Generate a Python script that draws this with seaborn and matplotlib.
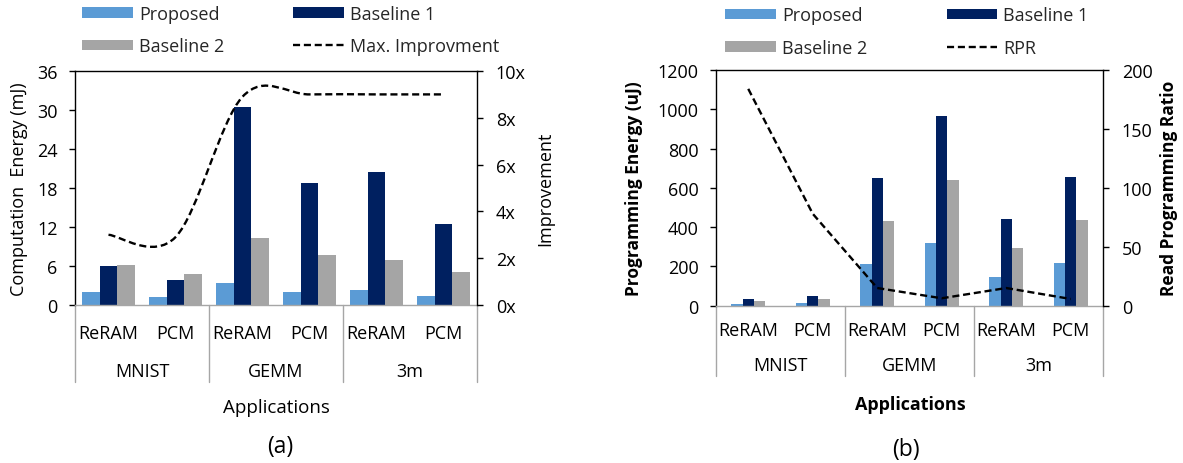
import numpy as np
import pandas as pd
import matplotlib
matplotlib.use("Agg")
import matplotlib.pyplot as plt
import matplotlib.transforms as mtransforms
from matplotlib.path import Path
from matplotlib.patches import PathPatch, Patch
from matplotlib.lines import Line2D
import seaborn as sns

# ---------------- data ----------------
apps = ["MNIST", "GEMM", "3m"]
devices = ["ReRAM", "PCM"]
series = ["Proposed", "Baseline 1", "Baseline 2"]
colors = ["#5B9BD5", "#002060", "#A5A5A5"]

# (a) computation energy (mJ) and maximum improvement (x)
a_proposed = [2.0, 1.3, 3.4, 2.0, 2.25, 1.4]
a_baseline1 = [6.05, 3.85, 30.4, 18.7, 20.5, 12.4]
a_baseline2 = [6.2, 4.7, 10.35, 7.75, 6.9, 5.1]
a_improvement = [3.0, 2.9, 8.9, 9.0, 9.0, 9.0]

# (b) programming energy (uJ) and read/programming ratio
b_proposed = [10, 15, 212, 318, 145, 217]
b_baseline1 = [32, 48, 648, 967, 441, 656]
b_baseline2 = [22, 32, 430, 640, 292, 436]
b_rpr = [184, 78, 15, 6.3, 15, 5.7]

a_ticks = [0, 6, 12, 18, 24, 30, 36]
a_ticks2 = [0, 2, 4, 6, 8, 10]
b_ticks = [0, 200, 400, 600, 800, 1000, 1200]
b_ticks2 = [0, 50, 100, 150, 200]

cases = [f"{a} {d}" for a in apps for d in devices]


def long_frame(*vals):
    rows = []
    for s, v in zip(series, vals):
        for c, x in zip(cases, v):
            rows.append({"case": c, "series": s, "value": x})
    return pd.DataFrame(rows)


sns.set_theme(style="white")
plt.rcParams["font.family"] = ["Open Sans", "DejaVu Sans"]
plt.rcParams["axes.unicode_minus"] = False

W, H = 1183, 464
fig = plt.figure(figsize=(W / 100, H / 100), dpi=100)

DASH = (0, (3, 1.6))
LW = 1.7
FS = 13


def fy(py):
    return 1 - py / H


def style_axes(ax, ax2):
    for a in (ax, ax2):
        for s in a.spines.values():
            s.set_visible(False)
    ax.spines["left"].set_visible(True)
    ax.spines["top"].set_visible(True)
    ax.spines["bottom"].set_visible(True)
    ax2.spines["right"].set_visible(True)
    for s in ("left", "top"):
        ax.spines[s].set_color("black")
        ax.spines[s].set_linewidth(1.0)
    ax.spines["bottom"].set_color("#A6A6A6")
    ax.spines["bottom"].set_linewidth(1.0)
    ax2.spines["right"].set_color("black")
    ax2.spines["right"].set_linewidth(1.0)
    ax.tick_params(axis="x", bottom=False, labelbottom=False)
    ax.tick_params(axis="y", left=True, direction="out", length=4.5, width=1,
                   color="black", labelsize=FS, pad=8, labelcolor="black")
    ax2.tick_params(axis="y", right=True, direction="out", length=4.5, width=1,
                    color="black", labelsize=FS, pad=9, labelcolor="black")
    ax.set_xlabel("")
    ax.set_xlim(-0.5, 5.5)


def category_labels(ax, sep_bottom, y_dev, y_app, fontsize=FS):
    tr = mtransforms.blended_transform_factory(ax.transData, fig.transFigure)
    top = ax.get_position().y0
    for b in [-0.5, 1.5, 3.5, 5.5]:
        ax.add_line(Line2D([b, b], [top, fy(sep_bottom)], transform=tr,
                           color="#A6A6A6", lw=1.0, clip_on=False))
    for i, c in enumerate(cases):
        ax.text(i, fy(y_dev), c.split(" ")[1], transform=tr, ha="center",
                va="baseline", fontsize=fontsize, color="black")
    for j, a in enumerate(apps):
        ax.text(2 * j + 0.5, fy(y_app), a, transform=tr, ha="center",
                va="baseline", fontsize=fontsize, color="black")


def smooth_path(xs, ys):
    # Catmull-Rom spline expressed as cubic Bezier segments
    p = np.column_stack([xs, ys]).astype(float)
    ext = np.vstack([p[0], p, p[-1]])
    verts = [tuple(p[0])]
    codes = [Path.MOVETO]
    for i in range(len(p) - 1):
        p0, p1, p2, p3 = ext[i], ext[i + 1], ext[i + 2], ext[i + 3]
        c1 = p1 + (p2 - p0) / 6
        c2 = p2 - (p3 - p1) / 6
        verts += [tuple(c1), tuple(c2), tuple(p2)]
        codes += [Path.CURVE4] * 3
    return Path(verts, codes)


# ---------------- panel (a) ----------------
axa = fig.add_axes([75 / W, fy(306), 402 / W, 234 / H])
sns.barplot(data=long_frame(a_proposed, a_baseline1, a_baseline2), x="case", y="value",
            hue="series", order=cases, hue_order=series, palette=colors, width=0.79,
            saturation=1, linewidth=0, errorbar=None, legend=False, ax=axa)
axa.set_ylim(0, 36)
axa.set_yticks(a_ticks)
axa2 = axa.twinx()
axa2.set_ylim(0, 10)
axa2.set_yticks(a_ticks2)
axa2.set_yticklabels([f"{t}x" for t in a_ticks2])
axa2.add_patch(PathPatch(smooth_path(np.arange(6), a_improvement), facecolor="none",
                         edgecolor="black", lw=LW, linestyle=DASH))
style_axes(axa, axa2)
axa.set_ylabel("Computation  Energy (mJ)", fontsize=13, color="black")
axa.yaxis.set_label_coords(-0.118, 0.5)
axa2.set_ylabel("Improvement", fontsize=13, color="black", rotation=90)
axa2.yaxis.set_label_coords(1.148, 0.5)
category_labels(axa, 383, 339, 377)
fig.text(276 / W, fy(413), "Applications", ha="center", va="baseline",
         fontsize=13.5, color="black")
fig.text(280 / W, fy(453), "(a)", ha="center", va="baseline", fontsize=16.5,
         color="black")

# ---------------- panel (b) ----------------
axb = fig.add_axes([716 / W, fy(306.7), 387 / W, 235.7 / H])
sns.barplot(data=long_frame(b_proposed, b_baseline1, b_baseline2), x="case", y="value",
            hue="series", order=cases, hue_order=series, palette=colors, width=0.53,
            saturation=1, linewidth=0, errorbar=None, legend=False, ax=axb)
axb.set_ylim(0, 1200)
axb.set_yticks(b_ticks)
axb2 = axb.twinx()
sns.lineplot(x=np.arange(6), y=b_rpr, ax=axb2, color="black", lw=LW, linestyle=DASH)
axb2.set_ylim(0, 200)
axb2.set_yticks(b_ticks2)
style_axes(axb, axb2)
axb.set_ylabel("Programming Energy (uJ)", fontsize=12.5, fontweight="bold", color="black")
axb.yaxis.set_label_coords(-0.189, 0.5)
axb2.set_ylabel("Read Programming Ratio", fontsize=12.5, fontweight="bold",
                color="black", rotation=90)
axb2.yaxis.set_label_coords(1.147, 0.5)
category_labels(axb, 376.7, 336, 371)
fig.text(910 / W, fy(410), "Applications", ha="center", va="baseline",
         fontsize=13, fontweight="bold", color="black")
fig.text(906 / W, fy(456.5), "(b)", ha="center", va="baseline", fontsize=16.5,
         color="black")

# ---------------- legends ----------------
def legend_at(x_px, top_px, line_label, colspacing):
    handles = [Patch(facecolor=colors[0], lw=0), Patch(facecolor=colors[2], lw=0),
               Patch(facecolor=colors[1], lw=0),
               Line2D([], [], color="black", lw=LW, linestyle=DASH)]
    labels = [series[0], series[2], series[1], line_label]
    fig.legend(handles, labels, ncol=2, loc="upper left",
               bbox_to_anchor=(x_px / W, fy(top_px)), frameon=False, fontsize=FS,
               handlelength=2.82, handleheight=0.5, handletextpad=0.33,
               columnspacing=colspacing, labelspacing=0.79, borderpad=0,
               borderaxespad=0)


legend_at(82, 6, "Max. Improvment", 3.8)
legend_at(725, 7.5, "RPR", 4.4)

fig.savefig("out.png", dpi=100)
